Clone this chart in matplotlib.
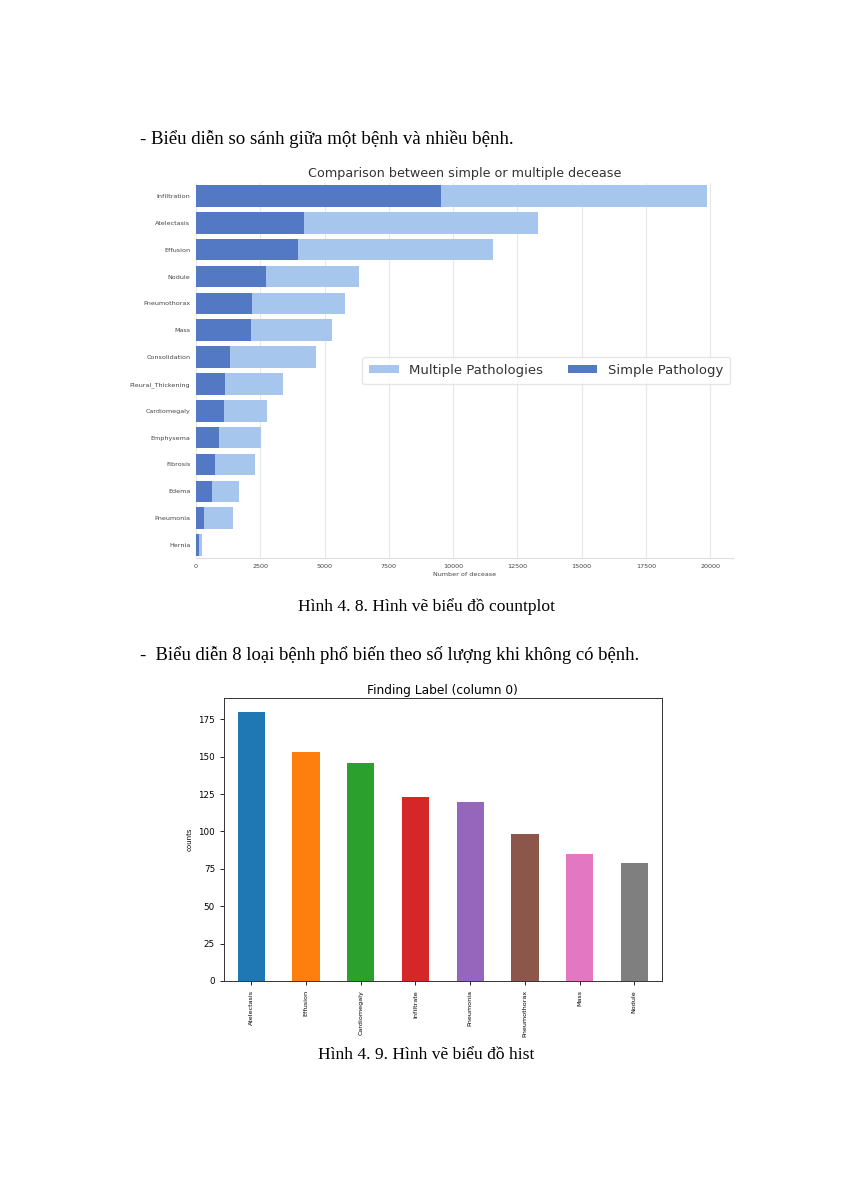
import matplotlib.pyplot as plt

# top chart: single vs multiple pathologies (NIH chest x-ray)
diseases = ["Infiltration", "Atelectasis", "Effusion", "Nodule", "Pneumothorax", "Mass",
            "Consolidation", "Pleural_Thickening", "Cardiomegaly", "Emphysema", "Fibrosis",
            "Edema", "Pneumonia", "Hernia"]
total_counts = [19894, 13317, 11559, 6331, 5782, 5302, 4667, 3385, 2776, 2516, 2303, 1686, 1431, 227]
single_counts = [9547, 4215, 3955, 2705, 2194, 2139, 1310, 1126, 1093, 892, 727, 628, 322, 110]

# bottom chart: top 8 labels
labels = ["Atelectasis", "Effusion", "Cardiomegaly", "Infiltrate", "Pneumonia",
          "Pneumothorax", "Mass", "Nodule"]
counts = [180, 153, 146, 123, 120, 98, 85, 79]

W, H = 849, 1200
fig = plt.figure(figsize=(W / 100, H / 100), dpi=100)

def px_axes(left, top, right, bottom):
    return fig.add_axes([left / W, 1 - bottom / H, (right - left) / W, (bottom - top) / H])

serif = ["Liberation Serif", "DejaVu Serif"]
fig.text(140 / W, 1 - 139 / H, "- Biểu diễn so sánh giữa một bệnh và nhiều bệnh.",
         family=serif, fontsize=13.6, va="center", ha="left")
fig.text(426 / W, 1 - 607 / H, "Hình 4. 8. Hình vẽ biểu đồ countplot",
         family=serif, fontsize=12.6, va="center", ha="center")
fig.text(140 / W, 1 - 655 / H, "-  Biểu diễn 8 loại bệnh phổ biến theo số lượng khi không có bệnh.",
         family=serif, fontsize=13.4, va="center", ha="left")
fig.text(426 / W, 1 - 1055 / H, "Hình 4. 9. Hình vẽ biểu đồ hist",
         family=serif, fontsize=12.6, va="center", ha="center")

# ---- top chart (seaborn-like whitegrid)
ax1 = px_axes(196, 182.6, 733, 558.4)
ypos = list(range(len(diseases)))
ax1.barh(ypos, total_counts, height=0.8, color="#a7c6ee", label="Multiple Pathologies", zorder=2)
ax1.barh(ypos, single_counts, height=0.8, color="#5479c4", label="Simple Pathology", zorder=3)
ax1.set_ylim(len(diseases) - 0.5, -0.5)
ax1.set_xlim(0, max(total_counts) * 1.05)
ax1.set_yticks(ypos)
ax1.set_yticklabels(diseases)
ax1.set_xticks([0, 2500, 5000, 7500, 10000, 12500, 15000, 17500, 20000])
ax1.tick_params(length=0, labelsize=4.6, labelcolor="#444444", pad=4)
ax1.grid(axis="x", color="#e8e8e8", linewidth=0.8, zorder=0)
ax1.set_axisbelow(True)
for s in ["left", "right", "top"]:
    ax1.spines[s].set_visible(False)
ax1.spines["bottom"].set_color("#dddddd")
ax1.set_xlabel("Number of decease", fontsize=4.6, color="#444444", labelpad=2)
ax1.set_title("Comparison between simple or multiple decease", fontsize=9.2, color="#333333", pad=4)
leg = ax1.legend(ncol=2, loc="center right", frameon=True, fontsize=9.5, handlelength=2.2,
                 handleheight=0.55, columnspacing=1.9, borderpad=0.55, borderaxespad=0.2)
leg.get_frame().set_edgecolor("#e0e0e0")
for t in leg.get_texts():
    t.set_color("#333333")

# ---- bottom chart (pandas bar, classic style)
ax2 = px_axes(224, 698.3, 661.7, 981)
colors = ["#1f77b4", "#ff7f0e", "#2ca02c", "#d62728", "#9467bd", "#8c564b", "#e377c2", "#7f7f7f"]
ax2.bar(range(len(labels)), counts, width=0.5, color=colors)
ax2.set_xlim(-0.5, len(labels) - 0.5)
ax2.set_ylim(0, max(counts) * 1.05)
ax2.set_xticks(range(len(labels)))
ax2.set_xticklabels(labels, rotation=90)
ax2.set_yticks([0, 25, 50, 75, 100, 125, 150, 175])
ax2.tick_params(axis="y", labelsize=6.3, length=3, width=0.6)
ax2.tick_params(axis="x", labelsize=4.6, length=3, width=0.6)
for s in ax2.spines.values():
    s.set_linewidth(0.7)
    s.set_color("#333333")
ax2.set_ylabel("counts", fontsize=5)
ax2.set_title("Finding Label (column 0)", fontsize=8.8, pad=3)

fig.savefig("out.png", dpi=100)
